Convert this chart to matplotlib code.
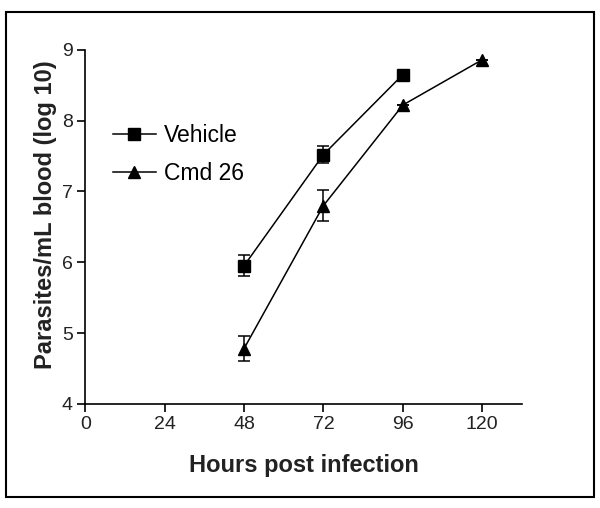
import matplotlib
matplotlib.use("Agg")
import matplotlib.pyplot as plt
from matplotlib.patches import Rectangle

plt.rcParams['font.family'] = ['Liberation Sans', 'DejaVu Sans']

# Hours post infection
vehicle_hours = [48, 72, 96]
vehicle_mean = [5.95, 7.52, 8.65]
vehicle_err = [0.15, 0.12, 0.0]

cmd_hours = [48, 72, 96, 120]
cmd_mean = [4.78, 6.80, 8.22, 8.86]
cmd_err = [0.18, 0.22, 0.0, 0.0]

x_ticks = [0, 24, 48, 72, 96, 120]
y_ticks = [4, 5, 6, 7, 8, 9]

fig = plt.figure(figsize=(6, 5.08), dpi=100)
ax = fig.add_axes([0.142, 0.205, 0.728, 0.697])

ax.errorbar(vehicle_hours, vehicle_mean, yerr=vehicle_err, color='black',
            marker='s', markersize=8.5, linewidth=1.1, capsize=4.5,
            elinewidth=1.1, capthick=1.1, label='Vehicle')
ax.errorbar(cmd_hours, cmd_mean, yerr=cmd_err, color='black',
            marker='^', markersize=9, linewidth=1.1, capsize=4.5,
            elinewidth=1.1, capthick=1.1, label='Cmd 26')

ax.set_xlim(0, 132)
ax.set_ylim(4, 9)
ax.set_xticks(x_ticks)
ax.set_yticks(y_ticks)
ax.spines['top'].set_visible(False)
ax.spines['right'].set_visible(False)
ax.spines['left'].set_linewidth(1.2)
ax.spines['bottom'].set_linewidth(1.2)
ax.tick_params(direction='out', length=6, width=1.2, labelsize=14, pad=3,
               labelcolor='#222222')

ax.set_xlabel('Hours post infection', fontsize=17, fontweight='bold', labelpad=15,
              color='#222222')
ax.set_ylabel('Parasites/mL blood (log 10)', fontsize=17, fontweight='bold',
              color='#222222')
ax.yaxis.set_label_coords(-0.064, 0.535)

handles, labels = ax.get_legend_handles_labels()
handles = [h[0] for h in handles]
ax.legend(handles, labels, loc='center left', bbox_to_anchor=(0.064, 0.705),
          frameon=False, fontsize=16.5, handlelength=1.85, handletextpad=0.35,
          labelspacing=0.65, borderaxespad=0, borderpad=0)

fig.patches.append(Rectangle((0.01, 0.022), 0.98, 0.954, transform=fig.transFigure,
                             fill=False, edgecolor='black', linewidth=1.5))

fig.savefig('out.png', dpi=100)
